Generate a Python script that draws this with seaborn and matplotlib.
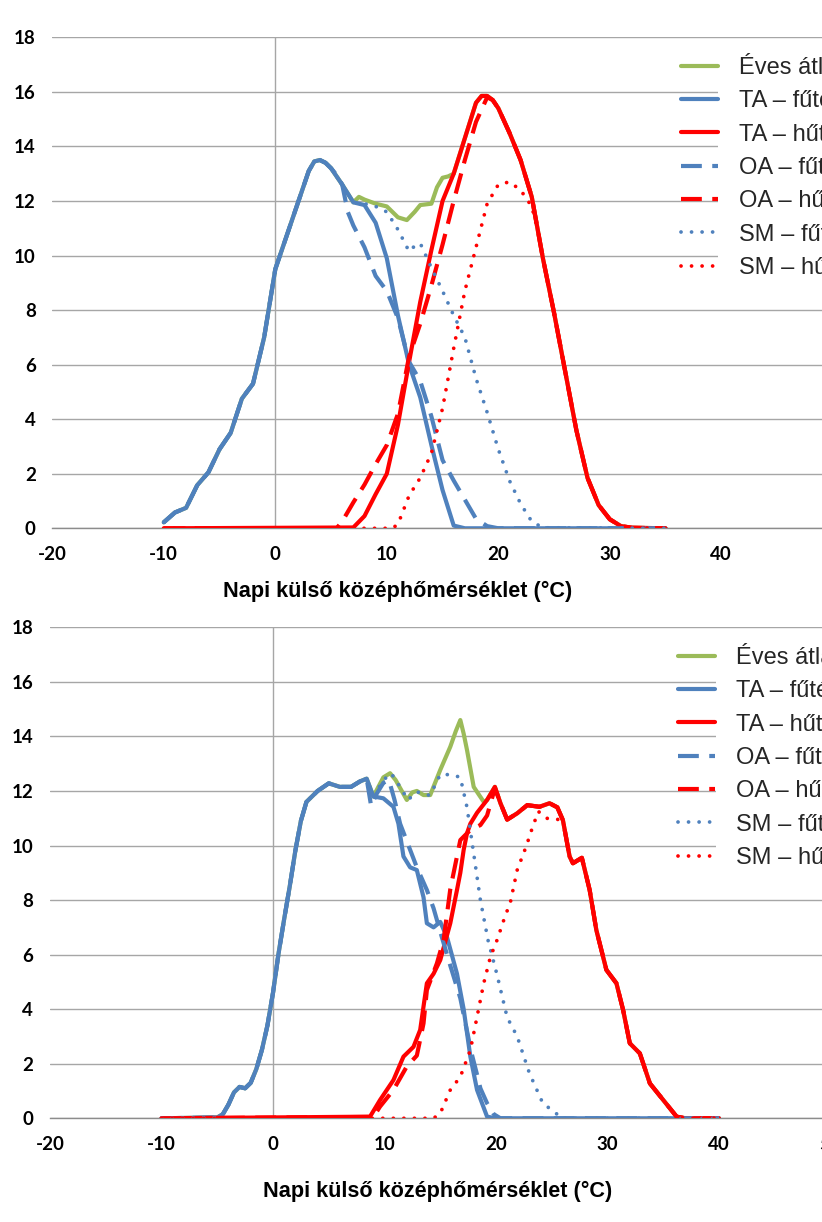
import matplotlib
matplotlib.use("Agg")
import matplotlib.pyplot as plt
from matplotlib import font_manager as fm
from matplotlib.patches import Rectangle
import seaborn as sns

# ---------------- data ----------------
LABELS = ["Éves átlag", "TA – fűtés", "TA – hűtés", "OA – fűtés",
          "OA – hűtés", "SM – fűtés", "SM – hűtés"]
X_TICKS = [-20, -10, 0, 10, 20, 30, 40, 50]
Y_TICKS = [0, 2, 4, 6, 8, 10, 12, 14, 16, 18]
X_TITLE = "Napi külső középhőmérséklet (°C)"

# ---- upper chart ----
top_eves_x = [-10, -9, -8, -7, -6, -5, -4, -3, -2, -1, 0, 1, 2, 3, 3.5, 4, 4.5, 5, 6, 7,
              7.5, 8, 9, 10, 11, 11.8, 12.5, 13, 14, 14.5, 15, 15.5, 16, 17, 18, 18.5, 19,
              19.5, 20, 21, 22, 23, 24, 25, 26, 27, 28, 29, 30, 31, 32, 35]
top_eves_y = [0.22, 0.58, 0.75, 1.58, 2.05, 2.9, 3.5, 4.75, 5.3, 7.0, 9.5, 10.7, 11.9, 13.1,
              13.45, 13.5, 13.4, 13.2, 12.6, 11.95, 12.15, 12.05, 11.9, 11.8, 11.4, 11.3,
              11.6, 11.85, 11.9, 12.5, 12.85, 12.9, 13.0, 14.3, 15.6, 15.85, 15.85, 15.7,
              15.4, 14.5, 13.5, 12.15, 9.9, 7.9, 5.75, 3.6, 1.85, 0.85, 0.33, 0.08, 0.02, 0]

top_ta_fut_x = [-10, -9, -8, -7, -6, -5, -4, -3, -2, -1, 0, 1, 2, 3, 3.5, 4, 4.5, 5, 6, 7,
                8, 9, 10, 11, 12, 13, 14, 15, 16, 17, 35]
top_ta_fut_y = [0.22, 0.58, 0.75, 1.58, 2.05, 2.9, 3.5, 4.75, 5.3, 7.0, 9.5, 10.7, 11.9, 13.1,
                13.45, 13.5, 13.4, 13.2, 12.6, 11.95, 11.85, 11.2, 9.9, 7.8, 6.0, 4.8, 3.05,
                1.4, 0.1, 0, 0]

top_ta_hut_x = [-10, 7, 8, 9, 10, 11, 12, 13, 14, 15, 16, 17, 18, 18.5, 19, 19.5, 20, 21, 22,
                23, 24, 25, 26, 27, 28, 29, 30, 31, 32, 35]
top_ta_hut_y = [0, 0.03, 0.45, 1.25, 2.0, 3.8, 6.1, 8.3, 10.2, 12.0, 13.0, 14.3, 15.6, 15.85,
                15.85, 15.7, 15.4, 14.5, 13.5, 12.15, 9.9, 7.9, 5.75, 3.6, 1.85, 0.85, 0.33,
                0.08, 0.02, 0]

top_oa_fut_x = [-10, -9, -8, -7, -6, -5, -4, -3, -2, -1, 0, 1, 2, 3, 3.5, 4, 4.5, 5, 5.5, 6,
                6.5, 7, 8, 9, 10, 11, 12, 13, 14, 15, 16, 17, 18, 19, 20, 35]
top_oa_fut_y = [0.22, 0.58, 0.75, 1.58, 2.05, 2.9, 3.5, 4.75, 5.3, 7.0, 9.5, 10.7, 11.9, 13.1,
                13.45, 13.5, 13.4, 13.2, 12.95, 12.6, 11.6, 11.1, 10.3, 9.25, 8.7, 7.7, 6.1,
                5.4, 4.1, 2.5, 1.75, 1.05, 0.35, 0.08, 0, 0]

top_oa_hut_x = [-10, 5.5, 6, 7, 8, 9, 10, 11, 12, 13, 14, 15, 16, 17, 18, 19, 19.5, 20, 21, 22,
                23, 24, 25, 26, 27, 28, 29, 30, 31, 32, 35]
top_oa_hut_y = [0, 0, 0.25, 0.95, 1.6, 2.35, 3.05, 4.2, 6.3, 7.5, 8.9, 10.4, 12.0, 13.5, 14.9,
                15.8, 15.7, 15.4, 14.5, 13.5, 12.15, 9.9, 7.9, 5.75, 3.6, 1.85, 0.85, 0.33,
                0.08, 0.02, 0]

top_sm_fut_x = [-10, -9, -8, -7, -6, -5, -4, -3, -2, -1, 0, 1, 2, 3, 3.5, 4, 4.5, 5, 6, 7,
                8, 9, 10, 11, 12, 12.5, 13, 14, 15, 16, 17, 18, 19, 20, 21, 22, 23, 24, 35]
top_sm_fut_y = [0.22, 0.58, 0.75, 1.58, 2.05, 2.9, 3.5, 4.75, 5.3, 7.0, 9.5, 10.7, 11.9, 13.1,
                13.45, 13.5, 13.4, 13.2, 12.6, 11.95, 11.9, 11.8, 11.6, 10.95, 10.15, 10.35,
                10.45, 9.55, 8.7, 7.8, 7.0, 5.5, 4.25, 2.9, 1.75, 0.9, 0.25, 0.02, 0]

top_sm_hut_x = [-10, 10.5, 11, 12, 13, 14, 15, 16, 17, 18, 19, 20, 21, 22, 23, 23.5, 24, 25,
                26, 27, 28, 29, 30, 31, 32, 35]
top_sm_hut_y = [0, 0, 0.15, 1.2, 1.85, 2.75, 4.4, 6.6, 8.7, 10.3, 11.9, 12.6, 12.7, 12.4,
                11.8, 11.0, 9.9, 7.9, 5.75, 3.6, 1.85, 0.85, 0.33, 0.08, 0.02, 0]

# ---- lower chart ----
bot_eves_x = [-10, -5, -4.5, -4, -3.5, -3, -2.5, -2, -1.5, -1, -0.5, 0, 0.5, 1, 1.5, 2, 2.5,
              3, 4, 5, 6, 7, 7.8, 8.4, 9.0, 9.9, 10.5, 11.0, 12.0, 12.5, 12.9, 13.5, 14.1,
              15.0, 15.9, 16.4, 16.8, 17.1, 17.4, 18.0, 18.9, 19.2, 19.9, 20.4, 21.0, 21.9,
              22.8, 23.9, 24.8, 25.5, 26.0, 26.6, 26.9, 27.7, 28.4, 29.0, 29.9, 30.8, 31.4,
              32.0, 32.9, 33.8, 35.0, 36.2, 37, 40]
bot_eves_y = [0, 0.03, 0.15, 0.5, 0.95, 1.15, 1.1, 1.3, 1.8, 2.5, 3.4, 4.6, 6.05, 7.3, 8.5,
              9.8, 10.9, 11.6, 12.0, 12.28, 12.15, 12.15, 12.35, 12.45, 11.8, 12.5, 12.65,
              12.4, 11.67, 11.95, 12.0, 11.85, 11.85, 12.77, 13.62, 14.2, 14.6, 14.1, 13.5,
              12.15, 11.6, 11.67, 12.15, 11.55, 10.95, 11.18, 11.48, 11.42, 11.55, 11.4,
              10.93, 9.6, 9.35, 9.55, 8.37, 6.9, 5.44, 4.95, 3.97, 2.75, 2.38, 1.28, 0.67,
              0.06, 0, 0]

bot_ta_fut_x = [-10, -5, -4.5, -4, -3.5, -3, -2.5, -2, -1.5, -1, -0.5, 0, 0.5, 1, 1.5, 2,
                2.5, 3, 4, 5, 6, 7, 7.8, 8.4, 9.0, 9.9, 10.8, 11.25, 11.7, 12.3, 12.9, 13.5,
                13.8, 14.4, 15.0, 15.6, 16.5, 17.1, 17.7, 18.3, 19.2, 20, 40]
bot_ta_fut_y = [0, 0.03, 0.15, 0.5, 0.95, 1.15, 1.1, 1.3, 1.8, 2.5, 3.4, 4.6, 6.05, 7.3,
                8.5, 9.8, 10.9, 11.6, 12.0, 12.28, 12.15, 12.15, 12.35, 12.45, 11.8, 11.73,
                11.42, 10.8, 9.6, 9.2, 9.1, 8.1, 7.15, 7.0, 7.2, 6.65, 5.3, 4.0, 2.26, 1.04,
                0.06, 0, 0]

bot_ta_hut_x = [-10, 8.7, 9.6, 10.8, 11.7, 12.6, 13.2, 13.5, 13.8, 14.4, 15.0, 15.9, 16.5,
                16.8, 17.1, 17.4, 17.7, 18.3, 19.2, 19.9, 20.4, 21.0, 21.9, 22.8, 23.9, 24.8,
                25.5, 26.0, 26.6, 26.9, 27.7, 28.4, 29.0, 29.9, 30.8, 31.4, 32.0, 32.9, 33.8,
                35.0, 36.2, 37, 40]
bot_ta_hut_y = [0, 0.06, 0.67, 1.4, 2.26, 2.62, 3.24, 4.1, 4.95, 5.3, 5.8, 7.15, 8.37, 9.0,
                9.84, 10.45, 10.8, 11.2, 11.67, 12.15, 11.55, 10.95, 11.18, 11.48, 11.42,
                11.55, 11.4, 10.93, 9.6, 9.35, 9.55, 8.37, 6.9, 5.44, 4.95, 3.97, 2.75, 2.38,
                1.28, 0.67, 0.06, 0, 0]

bot_oa_fut_x = [-10, -5, -4.5, -4, -3.5, -3, -2.5, -2, -1.5, -1, -0.5, 0, 0.5, 1, 1.5, 2,
                2.5, 3, 4, 5, 6, 7, 7.8, 8.4, 8.8, 9.3, 9.9, 10.4, 10.9, 11.4, 12.3, 12.9,
                13.8, 14.4, 15.1, 15.9, 16.8, 17.4, 17.8, 18.3, 18.6, 19.2, 19.8, 20.4, 40]
bot_oa_fut_y = [0, 0.03, 0.15, 0.5, 0.95, 1.15, 1.1, 1.3, 1.8, 2.5, 3.4, 4.6, 6.05, 7.3,
                8.5, 9.8, 10.9, 11.6, 12.0, 12.28, 12.15, 12.15, 12.35, 12.45, 11.45, 11.9,
                12.3, 12.4, 11.67, 10.8, 9.84, 9.2, 8.37, 7.7, 6.7, 5.6, 4.4, 3.2, 2.4, 1.6,
                1.1, 0.55, 0.15, 0, 0]

bot_oa_hut_x = [-10, 9.0, 9.6, 10.8, 12.0, 12.9, 13.5, 13.8, 14.7, 15.3, 15.9, 16.8, 17.7,
                18.6, 19.2, 19.9, 20.4, 21.0, 21.9, 22.8, 23.9, 24.8, 25.5, 26.0, 26.6, 26.9,
                27.7, 28.4, 29.0, 29.9, 30.8, 31.4, 32.0, 32.9, 33.8, 35.0, 36.2, 37, 40]
bot_oa_hut_y = [0, 0.05, 0.43, 1.04, 1.9, 2.3, 3.48, 4.7, 5.68, 6.54, 8.4, 10.2, 10.57,
                10.75, 11.1, 12.1, 11.55, 10.95, 11.18, 11.48, 11.42, 11.55, 11.4, 10.93, 9.6,
                9.35, 9.55, 8.37, 6.9, 5.44, 4.95, 3.97, 2.75, 2.38, 1.28, 0.67, 0.06, 0, 0]

bot_sm_fut_x = [-10, -5, -4.5, -4, -3.5, -3, -2.5, -2, -1.5, -1, -0.5, 0, 0.5, 1, 1.5, 2,
                2.5, 3, 4, 5, 6, 7, 7.8, 8.4, 9.0, 9.9, 10.6, 11.4, 12.1, 12.9, 13.8, 14.1,
                15.0, 16.0, 16.8, 17.4, 18.0, 18.6, 19.3, 20.1, 21.0, 21.9, 23.0, 24.2, 25.4,
                25.8, 40]
bot_sm_fut_y = [0, 0.03, 0.15, 0.5, 0.95, 1.15, 1.1, 1.3, 1.8, 2.5, 3.4, 4.6, 6.05, 7.3,
                8.5, 9.8, 10.9, 11.6, 12.0, 12.28, 12.15, 12.15, 12.35, 12.45, 11.8, 12.4,
                12.65, 12.15, 11.67, 11.97, 11.85, 11.85, 12.6, 12.6, 12.5, 11.4, 9.7, 8.0,
                6.5, 5.25, 3.7, 3.0, 1.65, 0.55, 0.18, 0, 0]

bot_sm_hut_x = [-10, 14.4, 15.0, 15.9, 16.8, 17.7, 18.3, 18.9, 19.5, 20.1, 20.7, 21.3, 21.9,
                22.7, 23.3, 23.8, 24.5, 25.7, 26.0, 26.6, 26.9, 27.7, 28.4, 29.0, 29.9, 30.8,
                31.4, 32.0, 32.9, 33.8, 35.0, 36.2, 37, 40]
bot_sm_hut_y = [0, 0, 0.18, 1.04, 1.52, 2.5, 3.72, 4.95, 5.92, 6.54, 7.27, 7.94, 9.1, 9.96,
                10.7, 11.25, 11.0, 10.95, 10.93, 9.6, 9.35, 9.55, 8.37, 6.9, 5.44, 4.95, 3.97,
                2.75, 2.38, 1.28, 0.67, 0.06, 0, 0]

TOP = [(top_eves_x, top_eves_y), (top_ta_fut_x, top_ta_fut_y), (top_ta_hut_x, top_ta_hut_y),
       (top_oa_fut_x, top_oa_fut_y), (top_oa_hut_x, top_oa_hut_y),
       (top_sm_fut_x, top_sm_fut_y), (top_sm_hut_x, top_sm_hut_y)]
BOT = [(bot_eves_x, bot_eves_y), (bot_ta_fut_x, bot_ta_fut_y), (bot_ta_hut_x, bot_ta_hut_y),
       (bot_oa_fut_x, bot_oa_fut_y), (bot_oa_hut_x, bot_oa_hut_y),
       (bot_sm_fut_x, bot_sm_fut_y), (bot_sm_hut_x, bot_sm_hut_y)]

# ---------------- styles ----------------
GREEN, BLUE, RED = "#9BBB59", "#4F81BD", "#FF0000"
GRID = "#A6A6A6"
STYLES = [
    dict(color=GREEN, lw=3.0, ls="-"),
    dict(color=BLUE, lw=3.0, ls="-"),
    dict(color=RED, lw=3.0, ls="-"),
    dict(color=BLUE, lw=3.0, ls=(0, (5, 2.5))),
    dict(color=RED, lw=3.0, ls=(0, (5, 2.5))),
    dict(color=BLUE, lw=2.7, ls=(0, (0.01, 2.8))),
    dict(color=RED, lw=2.7, ls=(0, (0.01, 2.8))),
]

sns.set_theme(style="white")
avail = {f.name for f in fm.fontManager.ttflist}
NARROW = "Liberation Sans Narrow" if "Liberation Sans Narrow" in avail else "Liberation Sans"
NUMF = "Lato" if "Lato" in avail else "DejaVu Sans"
plt.rcParams["font.family"] = [NARROW, "DejaVu Sans"]
LEG_SIZE = 20 if NARROW == "Liberation Sans Narrow" else 17
XLAB_SIZE = 17 if NARROW == "Liberation Sans Narrow" else 15.6

W, H = 822, 1222
fig = plt.figure(figsize=(W / 100, H / 100), dpi=100)
fig.patch.set_facecolor("white")

panels = [
    dict(data=TOP, left=52.3, bottom=528.3, xlab_x=0.442, xlab_y=-0.128, show50=False),
    dict(data=BOT, left=50.0, bottom=1118.3, xlab_x=0.496, xlab_y=-0.150, show50=True),
]
for p in panels:
    ax = fig.add_axes([p["left"] / W, 1 - p["bottom"] / H, 780.5 / W, 491 / H])
    ax.set_facecolor("white")
    ax.set_axisbelow(True)
    for (xs, ys), st, lab in zip(p["data"], STYLES, LABELS):
        sns.lineplot(x=xs, y=ys, ax=ax, color=st["color"], linewidth=st["lw"],
                     linestyle=st["ls"], label=lab, sort=False, estimator=None,
                     legend=False, solid_joinstyle="round", solid_capstyle="round",
                     dash_capstyle="round" if st["lw"] < 3 else "butt", zorder=3)
    ax.set_xlim(-20, 50)
    ax.set_ylim(0, 18)
    ax.set_xticks(X_TICKS)
    ax.set_xticklabels([str(v) if (v != 50 or p["show50"]) else "" for v in X_TICKS])
    ax.set_yticks(Y_TICKS)
    ax.set_yticklabels([str(v) for v in Y_TICKS])
    ax.yaxis.grid(True, color=GRID, lw=1.0, zorder=0.5)
    ax.xaxis.grid(False)
    ax.axvline(0, color=GRID, lw=1.0, zorder=0.6)
    for s in ["left", "right", "top"]:
        ax.spines[s].set_visible(False)
    ax.spines["bottom"].set_color("#8C8C8C")
    ax.spines["bottom"].set_linewidth(1.0)
    ax.tick_params(axis="x", direction="out", length=4, width=1, color="#8C8C8C", pad=9)
    ax.tick_params(axis="y", length=0, pad=12)
    for t in ax.get_xticklabels() + ax.get_yticklabels():
        t.set_fontfamily([NUMF, "DejaVu Sans"])
        t.set_fontweight("bold")
        t.set_fontsize(13.5)
        t.set_color("black")
    ax.set_ylabel("")
    ax.set_xlabel(X_TITLE, fontsize=XLAB_SIZE, fontweight="bold", color="black",
                  family=[NARROW, "DejaVu Sans"])
    ax.xaxis.set_label_coords(p["xlab_x"], p["xlab_y"])
    ax.xaxis.label.set_va("center")
    # white background behind the legend text (hides the grid there)
    ax.add_patch(Rectangle((39.7, 8.6), 30, 9.1, facecolor="white", edgecolor="none",
                           zorder=1))
    handles = ax.get_lines()[:7]
    leg = ax.legend(handles=handles, labels=LABELS, loc="upper left",
                    bbox_to_anchor=(0.805, 0.968), frameon=False, borderpad=0,
                    borderaxespad=0, handlelength=37 / (LEG_SIZE * 100 / 72),
                    handletextpad=21 / (LEG_SIZE * 100 / 72),
                    labelspacing=0.48 if LEG_SIZE < 20 else 0.32,
                    prop=dict(family=[NARROW, "DejaVu Sans"], size=LEG_SIZE))
    leg.set_zorder(5)

fig.savefig("out.png", dpi=100, facecolor="white")
